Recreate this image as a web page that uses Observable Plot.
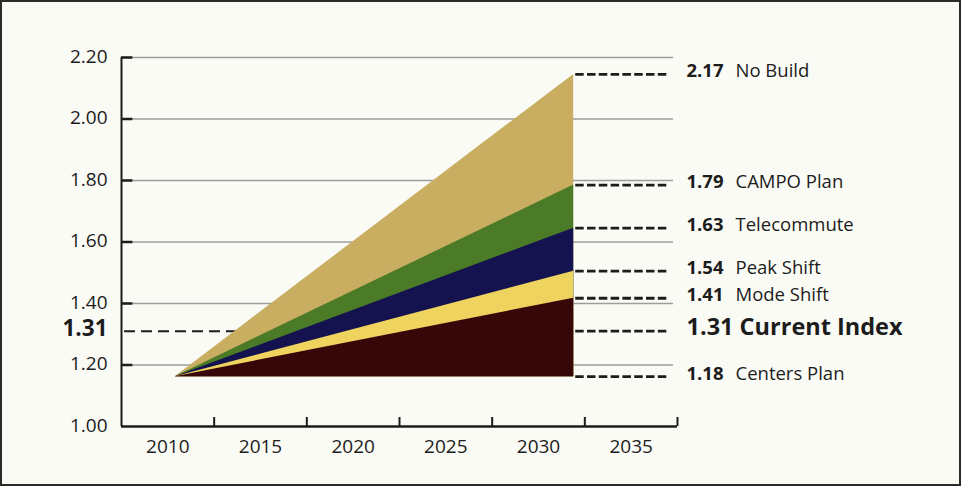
<!DOCTYPE html>
<html><head><meta charset="utf-8">
<script src="https://cdn.jsdelivr.net/npm/d3@7"></script>
<script src="https://cdn.jsdelivr.net/npm/@observablehq/plot@0.6"></script>
<style>
body{margin:0;background:#fbfbf5;}
#chart svg{display:block;outline:2px solid #2a2a2a;outline-offset:-2px;}
</style></head><body><div id="chart"></div>
<script>
const scenarios = ["No Build", "CAMPO Plan", "Telecommute", "Peak Shift", "Mode Shift"];
const scenarioEnd = [2.145, 1.785, 1.645, 1.505, 1.417];
const scenarioColors = ["#c9ae62", "#4b7b27", "#14134f", "#eed35f", "#370609"];
const startYear = 2010.4;
const endYear = 2031.9;
const baseIndex = 1.162;
const currentIndex = 1.31;
const labelValues = ["2.17", "1.79", "1.63", "1.54", "1.41", "1.31", "1.18"];
const labelNames = ["No Build", "CAMPO Plan", "Telecommute", "Peak Shift", "Mode Shift", "Current Index", "Centers Plan"];
const labelPos = [...scenarioEnd, currentIndex, baseIndex];
const yTicks = [1.0, 1.2, 1.4, 1.6, 1.8, 2.0, 2.2];
const xLabels = [2010, 2015, 2020, 2025, 2030, 2035];
const xTicks = [2012.5, 2017.5, 2022.5, 2027.5, 2032.5, 2037.5];
const xDomain = [2007.5, 2037.5];
const yDomain = [1.0, 2.2];

const areaData = scenarios.flatMap((name, i) => [
  {name, year: startYear, top: baseIndex},
  {name, year: endYear, top: scenarioEnd[i]}
]);
const labels = labelNames.map((name, i) => ({name, value: labelValues[i], pos: labelPos[i], main: name === "Current Index"}));
const ink = "#1c1c1c";

const chart = Plot.plot({
  width: 961, height: 486,
  marginTop: 57, marginBottom: 60, marginLeft: 121, marginRight: 284,
  x: {domain: xDomain, axis: null},
  y: {domain: yDomain, axis: null},
  color: {domain: scenarios, range: scenarioColors},
  style: {fontFamily: "'Open Sans', sans-serif", background: "#fbfbf5", color: ink},
  marks: [
    Plot.ruleY(yTicks.filter(d => d > yDomain[0]), {x1: xDomain[0], x2: xDomain[1], insetRight: 4, stroke: "#9d9d9a", strokeWidth: 1.3}),
    Plot.ruleY([currentIndex], {x1: xDomain[0], x2: endYear, insetLeft: 3, stroke: ink, strokeWidth: 2, strokeDasharray: "11,6"}),
    Plot.areaY(areaData, {x: "year", y1: () => baseIndex, y2: "top", z: "name", fill: "name"}),
    Plot.ruleY(labels, {y: "pos", x1: endYear, x2: xDomain[1], insetLeft: 2, insetRight: 9, stroke: ink, strokeWidth: 2.8, strokeDasharray: "8.5,3.3"}),
    Plot.ruleX([xDomain[0]], {y1: yDomain[1], y2: yDomain[0], stroke: ink, strokeWidth: 2}),
    Plot.ruleY([yDomain[0]], {x1: xDomain[0], x2: xDomain[1], stroke: ink, strokeWidth: 2.5}),
    Plot.ruleY(yTicks.filter(d => d > yDomain[0]), {x1: xDomain[0], x2: 2010, insetRight: 35, stroke: ink, strokeWidth: 2.5}),
    Plot.ruleX(xTicks, {y1: 1.2, y2: yDomain[0], insetTop: 52.5, stroke: ink, strokeWidth: 2}),
    Plot.text(yTicks, {x: xDomain[0], y: d => d, text: d => d3.format(".2f")(d), textAnchor: "end", dx: -14, dy: -1, fontSize: 19, fill: ink}),
    Plot.text([currentIndex], {x: xDomain[0], y: d => d, text: d => d3.format(".2f")(d), textAnchor: "end", dx: -14, dy: -2, fontSize: 22.5, fontWeight: "bold", fill: ink}),
    Plot.text(xLabels, {x: d => d, y: yDomain[0], text: d => String(d), dy: 20, fontSize: 19, fill: ink}),
    Plot.text(labels.filter(d => !d.main), {x: xDomain[1], y: "pos", text: "value", textAnchor: "start", dx: 9, dy: -3, fontSize: 18.5, fontWeight: "bold", fill: ink}),
    Plot.text(labels.filter(d => !d.main), {x: xDomain[1], y: "pos", text: "name", textAnchor: "start", dx: 58, dy: -3, fontSize: 18.5, fill: ink}),
    Plot.text(labels.filter(d => d.main), {x: xDomain[1], y: "pos", text: d => d.value + " " + d.name, textAnchor: "start", dx: 9, dy: -4, fontSize: 23.5, fontWeight: "bold", fill: ink})
  ]
});
document.getElementById("chart").append(chart);
</script></body></html>
